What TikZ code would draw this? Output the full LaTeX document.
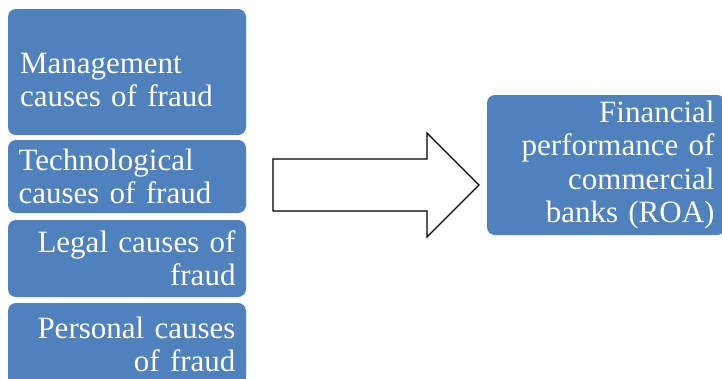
\documentclass[tikz,border=0pt]{standalone}
\usepackage{fontspec}
\newfontfamily\boxfont{Liberation Serif}
\usepackage{xcolor}
\usepackage{tikz}
\usetikzlibrary{calc}
\definecolor{boxblue}{HTML}{4F81BD}

\begin{document}
\begin{tikzpicture}[x=1pt, y=-1pt,
  box/.style={fill=boxblue, rounded corners=8pt, minimum width=238pt, text width=217pt,
    inner xsep=10.5pt, inner ysep=0pt, text=white, font=\boxfont\fontsize{31}{33.3}\selectfont},
  blockarr/.style={draw=black, line width=1.3pt, fill=white, line join=miter}]
  \clip (0,0) rectangle (722,378);
  \useasboundingbox (0,0) rectangle (722,378);
  \node[box, minimum height=126pt] (mgmt) at (127,72) {};
  \node[box, minimum height=0pt, fill=none, anchor=south west, align=left] (mgmttext)
    at ($(mgmt.south west)+(1.5,-28)$) {Management\\causes of fraud};
  \node[box, minimum height=73pt, align=left] (tech) at (127,176.5) {Technological\\causes of fraud};
  \node[box, minimum height=77pt, align=right] (legal) at (127,258.5) {Legal causes of\\fraud};
  \node[box, minimum height=83pt, align=right] (pers) at (127,344.5) {Personal causes\\of fraud};
  \node[box, minimum height=140pt, align=right] (perf) at (606,165) {Financial\\performance of\\commercial\\banks (ROA)};
  \coordinate (arrtail) at (273,159);
  \draw[blockarr] (arrtail) -- ++(154,0) -- ++(0,-26) -- ++(52,52) -- ++(-52,52) -- ++(0,-26) -- ++(-154,0) -- cycle;
\end{tikzpicture}
\end{document}
